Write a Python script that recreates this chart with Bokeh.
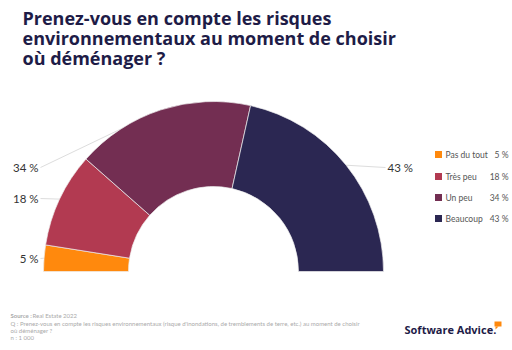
import math
from bokeh.plotting import figure
from bokeh.models import Range1d, Label
from bokeh.embed import file_html
from bokeh.resources import INLINE

# ---- data ----
categories = ["Pas du tout", "Très peu", "Un peu", "Beaucoup"]
values = [5, 18, 34, 43]
value_labels = ["5 %", "18 %", "34 %", "43 %"]
colors = ["#FF890D", "#B23A51", "#732E52", "#2B2752"]
title_lines = ["Prenez-vous en compte les risques",
               "environnementaux au moment de choisir",
               "où déménager ?"]
foot_lines = ["Q : Prenez-vous en compte les risques environnementaux (risque d'inondations, de tremblements de terre, etc.) au moment de choisir",
              "où déménager ?",
              "n : 1 000"]

W, H = 512, 350
p = figure(width=W, height=H, output_backend="svg", toolbar_location=None,
           x_range=Range1d(0, W), y_range=Range1d(0, H), min_border=0)
p.axis.visible = False
p.grid.visible = False
p.outline_line_color = None
p.background_fill_color = "white"

def Y(y):  # screen y -> data y
    return H - y

cx, cy = 213, Y(271)
r_out, r_in = 170, 85

total = sum(values)
cum = 0
mids = []
starts, ends = [], []
for v in values:
    a_end = math.pi - cum / total * math.pi
    cum += v
    a_start = math.pi - cum / total * math.pi
    starts.append(a_start)
    ends.append(a_end)
    mids.append((a_start + a_end) / 2)

# leader lines & labels (label anchor positions, screen coords)
label_pos = [(38, 258), (38, 198), (38, 167), (387, 167)]
for i, m in enumerate(mids):
    mx = cx + r_out * math.cos(m)
    my = cy + r_out * math.sin(m)
    lx, ly = label_pos[i]
    x0 = lx + 2 if lx < cx else lx - 2
    p.line([x0, mx], [Y(ly), my], line_color="#dddddd", line_width=1)
    p.add_layout(Label(x=lx, y=Y(ly), text=value_labels[i], text_font="Lato",
                       text_font_size="11.5px", text_color="#333333",
                       text_align="right" if lx < cx else "left",
                       text_baseline="middle"))

p.annular_wedge(x=cx, y=cy, inner_radius=r_in, outer_radius=r_out,
                start_angle=starts, end_angle=ends, fill_color=colors,
                line_color="#eeeeee", line_width=0.7)

# title
for i, t in enumerate(title_lines):
    p.add_layout(Label(x=22, y=Y(17 + 20 * i), text=t, text_font="Open Sans",
                       text_font_style="bold", text_font_size="18px",
                       text_color="#1E1C47", text_baseline="middle"))

# legend
leg_y = [154, 176, 197, 218]
for i, c in enumerate(categories):
    p.rect(x=438, y=Y(leg_y[i]), width=7, height=7, fill_color=colors[i],
           line_color=None)
    p.add_layout(Label(x=445, y=Y(leg_y[i]), text=c, text_font="Lato",
                       text_font_size="8.5px", text_color="#555555",
                       text_baseline="middle"))
    p.add_layout(Label(x=508, y=Y(leg_y[i]), text=value_labels[i], text_font="Lato",
                       text_font_size="8.5px", text_color="#555555",
                       text_baseline="middle", text_align="right"))

# footnotes
p.add_layout(Label(x=10, y=Y(315), text="Source :", text_font="Lato",
                   text_font_style="bold", text_font_size="6px", text_color="#aaaaaa",
                   text_baseline="middle"))
p.add_layout(Label(x=32, y=Y(315), text="Real Estate 2022", text_font="Lato",
                   text_font_size="6px", text_color="#aaaaaa", text_baseline="middle"))
for i, t in enumerate(foot_lines):
    p.add_layout(Label(x=10, y=Y(322.5 + 7 * i), text=t, text_font="Lato",
                       text_font_size="6px", text_color="#aaaaaa",
                       text_baseline="middle"))

# logo
p.add_layout(Label(x=404, y=Y(329), text="Software Advice.", text_font="Open Sans",
                   text_font_style="bold", text_font_size="11px", text_color="#1E1C47",
                   text_baseline="middle"))
p.quad(left=494, right=501, top=Y(321), bottom=Y(326), fill_color="#FF890D", line_color=None)
p.patch([495, 498, 495], [Y(326), Y(326), Y(329)], fill_color="#FF890D", line_color=None)

open("out.html", "w").write(file_html(p, INLINE))
